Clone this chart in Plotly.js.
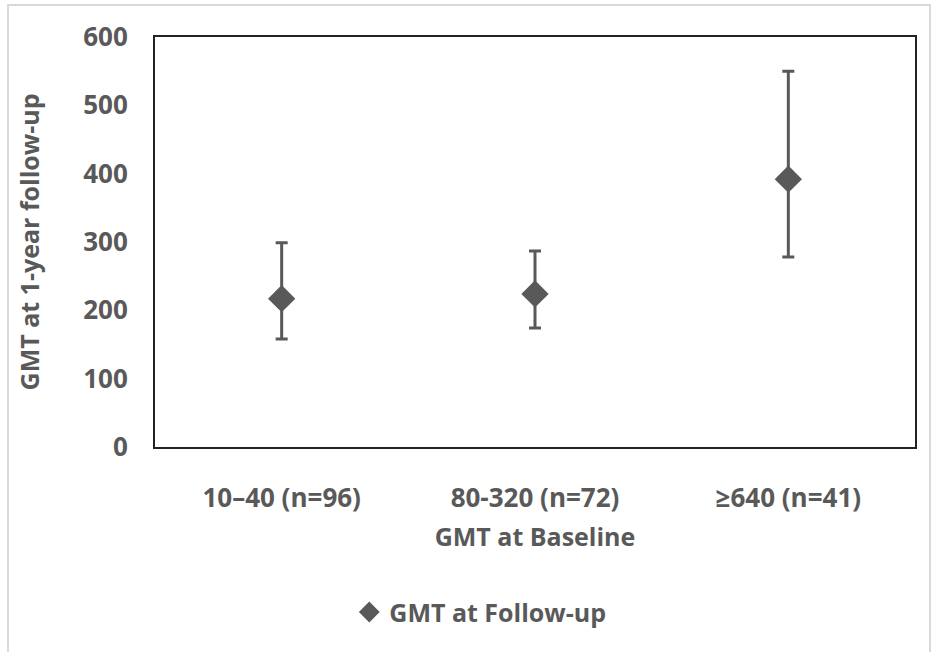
<!DOCTYPE html>
<html>
<head>
<meta charset="utf-8">
<script src="https://cdn.plot.ly/plotly-3.0.1.min.js"></script>
<style>
  html, body { margin: 0; padding: 0; background: #fff; }
  #wrap { position: relative; width: 937px; height: 652px; overflow: hidden; }
  #frame { position: absolute; left: 7px; top: 4px; width: 924px; height: 660px; border: 2px solid #d9d9d9; box-sizing: border-box; pointer-events: none; }
  #chart { position: absolute; left: 0; top: 0; width: 937px; height: 652px; }
</style>
</head>
<body>
<div id="wrap">
  <div id="chart"></div>
  <div id="frame"></div>
</div>
<script>
const categories = ['10\u201340 (n=96)', '80-320 (n=72)', '\u2265640 (n=41)'];
const gmtFollowUp = [217, 224, 392];
const upperCI = [299, 287, 550];
const lowerCI = [158, 174, 278];
const yTicks = [0, 100, 200, 300, 400, 500, 600];

const errPlus = gmtFollowUp.map((v, i) => upperCI[i] - v);
const errMinus = gmtFollowUp.map((v, i) => v - lowerCI[i]);

const gray = '#595959';
const fontFam = '"Open Sans", "Liberation Sans", sans-serif';
const tickFont = { family: fontFam, size: 26, color: gray, weight: 'bold' };
const titleFont = { family: fontFam, size: 25, color: gray, weight: 'bold' };

const trace = {
  type: 'scatter',
  mode: 'markers',
  name: 'GMT at Follow-up',
  x: categories,
  y: gmtFollowUp,
  marker: { symbol: 'diamond', size: 21, color: gray },
  error_y: {
    type: 'data', symmetric: false,
    array: errPlus, arrayminus: errMinus,
    color: gray, thickness: 3, width: 6
  }
};

const layout = {
  width: 937, height: 652,
  margin: { l: 155, r: 22, t: 37, b: 205 },
  paper_bgcolor: '#ffffff', plot_bgcolor: '#ffffff',
  font: { family: fontFam, color: gray, size: 20 },
  showlegend: true,
  legend: {
    orientation: 'h', x: 0.428, xanchor: 'center', y: -0.403, yanchor: 'middle',
    font: titleFont
  },
  xaxis: {
    type: 'category', range: [-0.5, 2.5],
    showline: true, linecolor: '#222', linewidth: 2, mirror: true,
    showgrid: false, zeroline: false, ticks: '',
    ticklabelstandoff: 27,
    tickfont: tickFont,
    title: { text: 'GMT at Baseline', standoff: 14, font: titleFont },
    automargin: false
  },
  yaxis: {
    range: [0, 600], tickvals: yTicks,
    showline: true, linecolor: '#222', linewidth: 2, mirror: true,
    showgrid: false, zeroline: false, ticks: '',
    ticklabelstandoff: 20,
    tickfont: tickFont,
    title: { text: 'GMT at 1-year follow-up', standoff: 36, font: titleFont },
    automargin: false
  }
};

Plotly.newPlot('chart', [trace], layout, { staticPlot: true, displayModeBar: false });
</script>
</body>
</html>
